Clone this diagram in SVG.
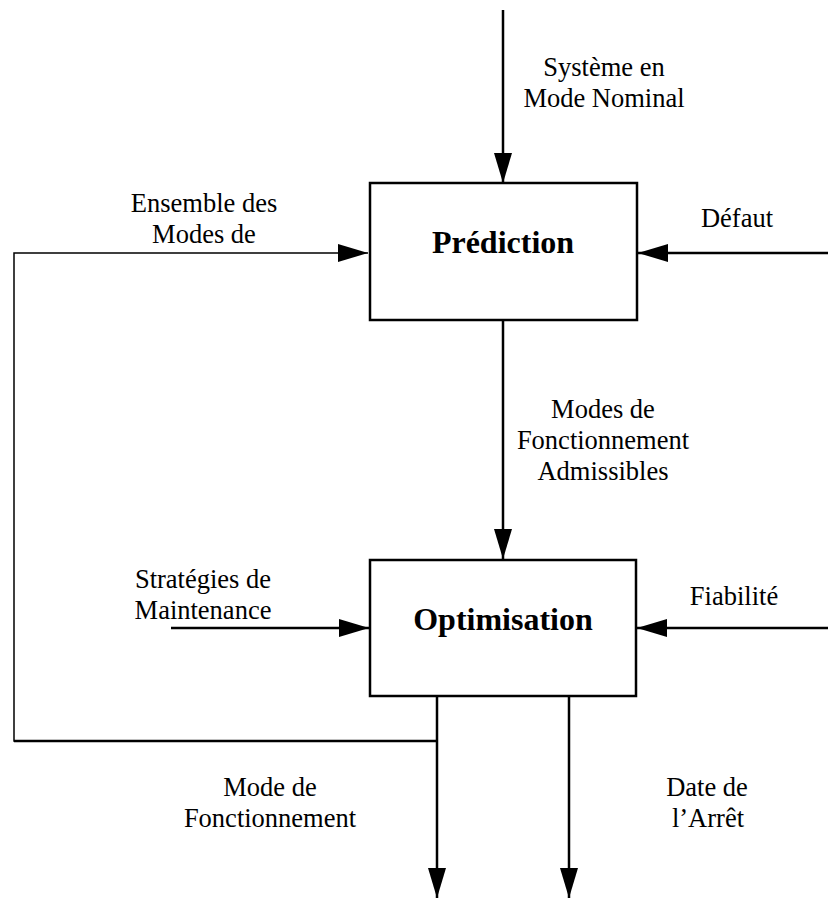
<svg xmlns="http://www.w3.org/2000/svg" width="828" height="899" viewBox="0 0 828 899">
<style>
.box{fill:#fff;stroke:#000;stroke-width:2.5}
.ln{fill:none;stroke:#000;stroke-width:2.5}
.thin{fill:none;stroke:#000;stroke-width:1.5}
.lbl{font-family:"Liberation Serif","Times New Roman",serif;font-size:26.5px;text-anchor:middle;fill:#000}
.ttl{font-family:"Liberation Serif","Times New Roman",serif;font-size:32px;font-weight:bold;text-anchor:middle;fill:#000}
</style>
<defs>
<marker id="ah" markerUnits="userSpaceOnUse" markerWidth="30" markerHeight="18" refX="30" refY="9" orient="auto">
<path d="M0,0 L30,9 L0,18 Z" fill="#000"/>
</marker>
</defs>
<g id="connectors">
<line class="ln" x1="503" y1="10" x2="503" y2="183" marker-end="url(#ah)"/>
<polyline class="thin" points="437,741 14,741 14,253 368,253" marker-end="url(#ah)"/>
<line class="ln" x1="14" y1="741" x2="437" y2="741"/>
<line class="ln" x1="828" y1="253" x2="638" y2="253" marker-end="url(#ah)"/>
<line class="ln" x1="503" y1="320" x2="503" y2="559" marker-end="url(#ah)"/>
<line class="ln" x1="171" y1="628" x2="369" y2="628" marker-end="url(#ah)"/>
<line class="ln" x1="828" y1="628" x2="637" y2="628" marker-end="url(#ah)"/>
<line class="ln" x1="437" y1="696" x2="437" y2="898" marker-end="url(#ah)"/>
<line class="ln" x1="569" y1="696" x2="569" y2="898" marker-end="url(#ah)"/>
<text class="lbl" x="604" y="76">Système en</text>
<text class="lbl" x="604" y="107">Mode Nominal</text>
<text class="lbl" x="204" y="212">Ensemble des</text>
<text class="lbl" x="204" y="243">Modes de</text>
<text class="lbl" x="737" y="227">Défaut</text>
<text class="lbl" x="603" y="418">Modes de</text>
<text class="lbl" x="603" y="449">Fonctionnement</text>
<text class="lbl" x="603" y="480">Admissibles</text>
<text class="lbl" x="203" y="588">Stratégies de</text>
<text class="lbl" x="203" y="619">Maintenance</text>
<text class="lbl" x="734" y="605">Fiabilité</text>
<text class="lbl" x="270" y="796">Mode de</text>
<text class="lbl" x="270" y="827">Fonctionnement</text>
<text class="lbl" x="707" y="796">Date de</text>
<text class="lbl" x="708" y="827">l’Arrêt</text>
</g>
<g id="prediction">
<rect class="box" x="370" y="183" width="267" height="137"/>
<text class="ttl" x="503" y="253">Prédiction</text>
</g>
<g id="optimisation">
<rect class="box" x="370" y="560" width="266" height="136"/>
<text class="ttl" x="503" y="630">Optimisation</text>
</g>
</svg>
